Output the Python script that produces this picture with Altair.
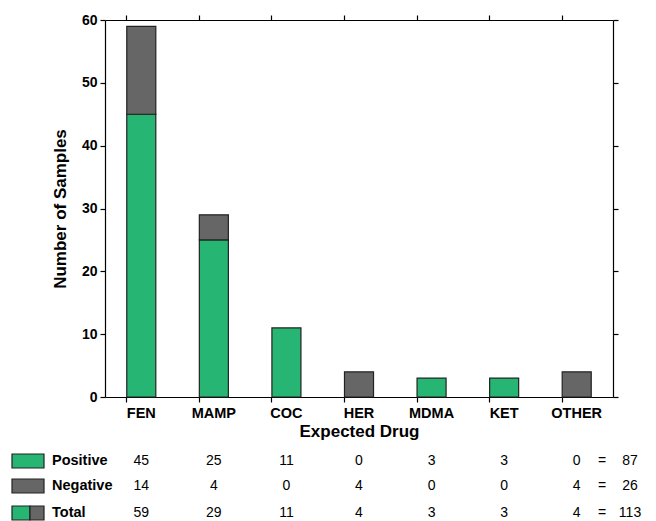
import altair as alt
import pandas as pd

drugs = ["FEN", "MAMP", "COC", "HER", "MDMA", "KET", "OTHER"]
positive = [45, 25, 11, 0, 3, 3, 0]
negative = [14, 4, 0, 4, 0, 0, 4]
totals = [p + n for p, n in zip(positive, negative)]
row_names = ["Positive", "Negative", "Total"]
sum_positive = sum(positive)
sum_negative = sum(negative)
sum_total = sum(totals)

GREEN = "#27b574"
GRAY = "#666666"
FONT = "Liberation Sans"

bars_df = pd.DataFrame(
    [{"drug": d, "status": "Positive", "order": 0, "count": p} for d, p in zip(drugs, positive)]
    + [{"drug": d, "status": "Negative", "order": 1, "count": n} for d, n in zip(drugs, negative)]
)

xscale = alt.Scale(domain=drugs, paddingInner=0.6, paddingOuter=0.3)
yscale = alt.Scale(domain=[0, 60], nice=False)
color_scale = alt.Scale(domain=["Positive", "Negative"], range=[GREEN, GRAY])

axis_common = dict(domainColor="black", tickColor="black", domainWidth=1.2, tickWidth=1.2,
                   tickSize=5, labelFont=FONT, titleFont=FONT, grid=False)

bars = alt.Chart(bars_df).transform_filter("datum.count > 0").mark_bar(
    stroke="#222222", strokeWidth=1.2
).encode(
    x=alt.X("drug:N", scale=xscale, sort=drugs,
            axis=alt.Axis(title="Expected Drug", labelAngle=0, labelFontWeight="bold",
                          labelFontSize=14.5, labelColor="black", titleFontSize=17,
                          titleFontWeight="bold", titleColor="black", titlePadding=4,
                          labelPadding=4, bandPosition=0, **axis_common)),
    y=alt.Y("count:Q", scale=yscale, stack="zero",
            axis=alt.Axis(title="Number of Samples", values=[0, 10, 20, 30, 40, 50, 60],
                          labelFontWeight="bold", labelFontSize=14, labelColor="black",
                          titleFontSize=17, titleFontWeight="bold", titleColor="black",
                          titlePadding=12, labelPadding=3, **axis_common)),
    color=alt.Color("status:N", scale=color_scale, legend=None),
    order=alt.Order("order:Q", sort="ascending"),
)

mirror = alt.Chart(bars_df).transform_filter("datum.count > 0").mark_bar(opacity=0).encode(
    x=alt.X("drug:N", scale=xscale, sort=drugs,
            axis=alt.Axis(orient="top", title=None, labels=False, bandPosition=0, **axis_common)),
    y=alt.Y("count:Q", scale=yscale, stack="zero",
            axis=alt.Axis(orient="right", title=None, labels=False,
                          values=[0, 10, 20, 30, 40, 50, 60], **axis_common)),
)

# table
row_y = {"Positive": 441, "Negative": 466, "Total": 493}
table_rows = []
for name, vals in zip(row_names, [positive, negative, totals]):
    for d, v in zip(drugs, vals):
        table_rows.append({"row": name, "drug": d, "val": str(v)})
table_df = pd.DataFrame(table_rows)

text_layers = []
for name in row_names:
    text_layers.append(
        alt.Chart(table_df[table_df.row == name]).mark_text(
            font=FONT, fontSize=14, color="black", baseline="middle"
        ).encode(x=alt.X("drug:N", scale=xscale, sort=drugs, axis=None),
                 y=alt.value(row_y[name]), text="val:N")
    )

for name, s in zip(row_names, [sum_positive, sum_negative, sum_total]):
    lab = pd.DataFrame({"row": [name], "sum": [str(s)], "eq": ["="]})
    text_layers.append(alt.Chart(lab).mark_text(font=FONT, fontSize=14.5, fontWeight="bold",
                                                align="left", baseline="middle", color="black")
                       .encode(x=alt.value(-53), y=alt.value(row_y[name]), text="row:N"))
    text_layers.append(alt.Chart(lab).mark_text(font=FONT, fontSize=14, baseline="middle", color="black")
                       .encode(x=alt.value(497), y=alt.value(row_y[name]), text="eq:N"))
    text_layers.append(alt.Chart(lab).mark_text(font=FONT, fontSize=14, baseline="middle", color="black")
                       .encode(x=alt.value(525), y=alt.value(row_y[name]), text="sum:N"))

sw = []
sw_defs = [("Positive", GREEN, -93, -61), ("Negative", GRAY, -93, -61),
           ("Total", GREEN, -93, -75), ("Total", GRAY, -75, -61)]
for name, col, x0, x1 in sw_defs:
    d = pd.DataFrame({"row": [name]})
    yc = row_y[name]
    sw.append(alt.Chart(d).mark_rect(fill=col, stroke="#222222", strokeWidth=1.2).encode(
        x=alt.value(x0), x2=alt.value(x1), y=alt.value(yc - 7), y2=alt.value(yc + 7)))

chart = alt.layer(bars, mirror, *text_layers, *sw).resolve_axis(
    x="independent", y="independent"
).properties(
    width=508, height=377,
    autosize=alt.AutoSizeParams(type="none"),
    padding={"left": 97, "top": 12, "right": 35, "bottom": 124},
).configure_view(stroke=None).configure(background="white")

chart.save("out.html", embed_options={"renderer": "svg", "actions": False})
